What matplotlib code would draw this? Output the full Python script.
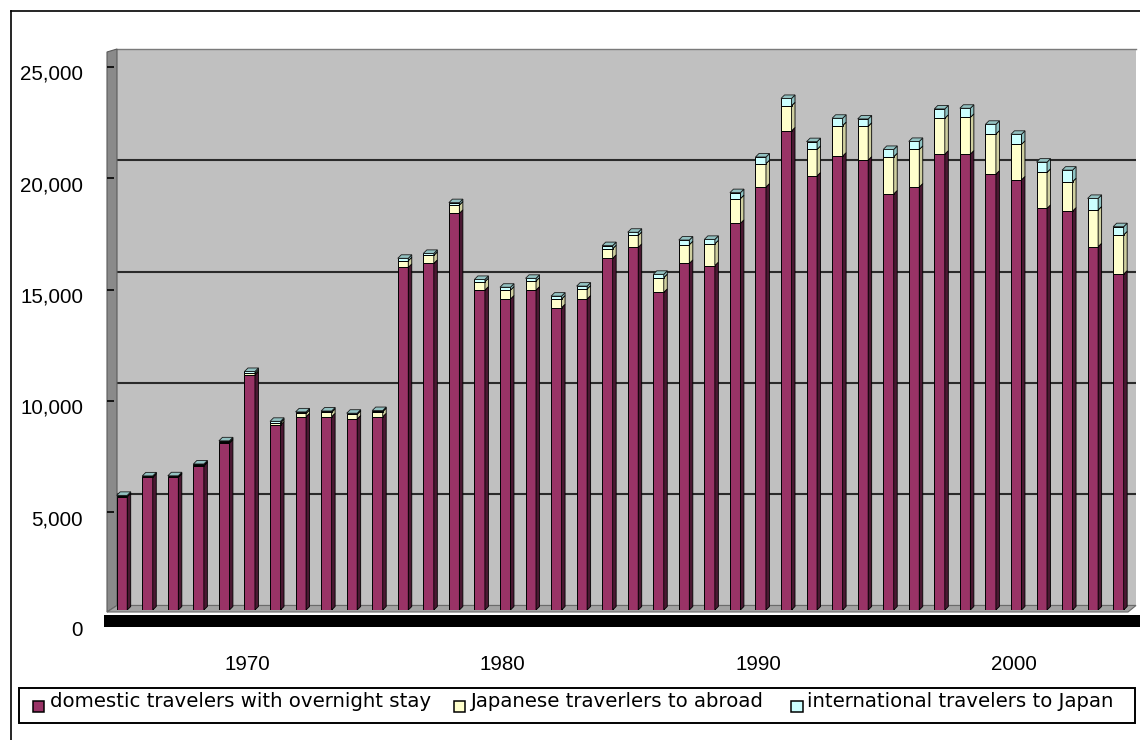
import matplotlib
matplotlib.use("Agg")
import matplotlib.pyplot as plt
from matplotlib.patches import Polygon, Rectangle
from matplotlib.lines import Line2D
from matplotlib.ticker import FuncFormatter
import numpy as np

plt.rcParams["font.family"] = ["Liberation Sans", "DejaVu Sans"]

# ---- data (travelers per year) ----
years = list(range(1965, 2005))
domestic = [5090, 5960, 5960, 6470, 7490, 10560, 8310, 8680, 8680, 8580, 8680,
            15390, 15570, 17820, 14370, 13970, 14370, 13580, 13970, 15800, 16290,
            14270, 15570, 15470, 17370, 19000, 21520, 19500, 20390, 20210, 18690,
            19000, 20480, 20480, 19580, 19320, 18040, 17920, 16320, 15090]
abroad = [20, 25, 30, 40, 50, 70, 100, 150, 200, 210, 230,
          300, 360, 370, 380, 400, 410, 390, 450, 430, 540,
          660, 840, 980, 1110, 1050, 1130, 1190, 1370, 1520, 1670,
          1690, 1610, 1650, 1800, 1600, 1620, 1320, 1650, 1760]
inbound = [40, 40, 40, 50, 60, 85, 66, 70, 60, 50, 50,
           110, 90, 110, 100, 130, 120, 130, 130, 140, 140,
           150, 210, 200, 270, 300, 330, 350, 330, 330, 330,
           360, 420, 410, 440, 450, 460, 520, 520, 370]
series_names = ["domestic travelers with overnight stay",
                "Japanese traverlers to abroad",
                "international travelers to Japan"]
year_ticks = [1970, 1980, 1990, 2000]
value_ticks = [0, 5000, 10000, 15000, 20000, 25000]

# ---- styling ----
front_cols = ["#993366", "#FFFFCC", "#CCFFFF"]
side_cols = ["#4A1832", "#CFCFA0", "#8FC3C3"]
top_col = "#93C2C2"
legend_font = "DejaVu Sans"

W, H = 1140, 740
fig = plt.figure(figsize=(W / 100, H / 100), dpi=100)


def fx(x):
    return x / W


def fy(y):
    return 1 - y / H


def box(l, t, r, b):
    return [fx(l), fy(b), fx(r) - fx(l), fy(t) - fy(b)]


def poly(pts, **kw):
    return Polygon([(fx(a), fy(b)) for a, b in pts], closed=True,
                   transform=fig.transFigure, **kw)


# outer chart frame
fig.add_artist(Line2D([fx(11), fx(11)], [fy(11), 0], color="black", lw=1.2))
fig.add_artist(Line2D([fx(11), 1], [fy(11), fy(11)], color="black", lw=1.2))

# back wall with gridlines
axb = fig.add_axes(box(117, 49, 1136, 605.5))
axb.set_zorder(0)
axb.set_facecolor("#C0C0C0")
axb.set_xlim(0, 1)
axb.set_ylim(value_ticks[0], value_ticks[-1])
axb.set_yticks(value_ticks[:-1])
axb.set_xticks([])
axb.tick_params(axis="y", length=0, labelleft=False)
axb.grid(axis="y", color="#2A2A2A", lw=1.5)
for s in ["left", "right", "bottom"]:
    axb.spines[s].set_visible(False)
axb.spines["top"].set_color("#7A7A7A")
axb.spines["top"].set_linewidth(1.0)

# left side wall and floor
fig.add_artist(poly([(107, 52), (117, 49), (117, 605.5), (107, 612)],
                    facecolor="#8A8A8A", edgecolor="#5A5A5A", lw=0.8, zorder=0.5))
fig.add_artist(poly([(107, 612), (1128, 612), (1136, 605.5), (117, 605.5)],
                    facecolor="#A2A2A2", edgecolor="#6A6A6A", lw=0.8, zorder=0.5))
# floor front face
fig.add_artist(Rectangle((fx(104), fy(627)), 1 - fx(104), fy(615) - fy(627),
                         transform=fig.transFigure, facecolor="black",
                         edgecolor="none", zorder=0.5))

# bar plane
ax = fig.add_axes(box(109.2, 53.5, 1131.2, 610))
ax.set_zorder(1)
ax.patch.set_visible(False)
ax.set_xlim(-0.5, len(years) - 0.5)
ax.set_ylim(value_ticks[0], value_ticks[-1])
ax.axis("off")

x = np.arange(len(years))
bw = 0.41
pos = ax.get_position()
px_per_x = pos.width * W / len(years)
px_per_y = pos.height * H / (value_ticks[-1] - value_ticks[0])
ddx = 3.5 / px_per_x
ddy = 3.5 / px_per_y

stack = [domestic, abroad, inbound]
bottom = np.zeros(len(years))
for k, vals in enumerate(stack):
    vals = np.asarray(vals, dtype=float)
    ax.bar(x, vals, bw, bottom=bottom, color=front_cols[k],
           edgecolor="black", linewidth=0.7, zorder=2)
    for xi, b, h in zip(x, bottom, vals):
        r = xi + bw / 2
        ax.add_patch(Polygon([(r, b), (r + ddx, b + ddy), (r + ddx, b + h + ddy), (r, b + h)],
                             closed=True, facecolor=side_cols[k], edgecolor="black",
                             lw=0.6, zorder=2))
        if k == len(stack) - 1:
            l = xi - bw / 2
            t = b + h
            ax.add_patch(Polygon([(l, t), (r, t), (r + ddx, t + ddy), (l + ddx, t + ddy)],
                                 closed=True, facecolor=top_col, edgecolor="#1A1A1A",
                                 lw=0.6, zorder=2))
    bottom = bottom + vals

# front edge: tick marks and category labels
axf = fig.add_axes(box(106.5, 67, 1128.5, 623.5))
axf.set_zorder(2)
axf.patch.set_visible(False)
for s in axf.spines.values():
    s.set_visible(False)
axf.set_xlim(-0.5, len(years) - 0.5)
axf.set_ylim(value_ticks[0], value_ticks[-1])
axf.set_yticks(value_ticks)
axf.tick_params(axis="y", direction="in", length=5, width=1.2, color="black",
                labelleft=False)
axf.set_xticks([years.index(y) for y in year_ticks])
axf.set_xticklabels([str(y) for y in year_ticks])
axf.tick_params(axis="x", length=0, pad=22.7, labelsize=14.8)

# value labels
axl = fig.add_axes(box(106.5, 72.5, 1128.5, 629))
axl.set_zorder(2)
axl.patch.set_visible(False)
for s in axl.spines.values():
    s.set_visible(False)
axl.set_ylim(value_ticks[0], value_ticks[-1])
axl.set_yticks(value_ticks)
axl.yaxis.set_major_formatter(FuncFormatter(lambda v, p: f"{v:,.0f}"))
axl.tick_params(axis="y", length=0, pad=16.8, labelsize=14.8)
axl.set_xticks([])

# legend
fig.add_artist(Rectangle((fx(19), fy(723)), fx(1135) - fx(19), fy(688) - fy(723),
                         transform=fig.transFigure, facecolor="white",
                         edgecolor="black", lw=1.4, zorder=3))
marker_x = [32.5, 453.5, 791]
text_x = [50, 470, 807]
for k, name in enumerate(series_names):
    fig.add_artist(Rectangle((fx(marker_x[k]), fy(712)), fx(11.5), fy(0) - fy(11.5),
                             transform=fig.transFigure, facecolor=front_cols[k],
                             edgecolor="black", lw=1.1, zorder=4))
    fig.text(fx(text_x[k]), fy(706.7), name, ha="left", va="baseline",
             fontsize=14.2, family=legend_font, zorder=4)

fig.savefig("out.png", dpi=100)
